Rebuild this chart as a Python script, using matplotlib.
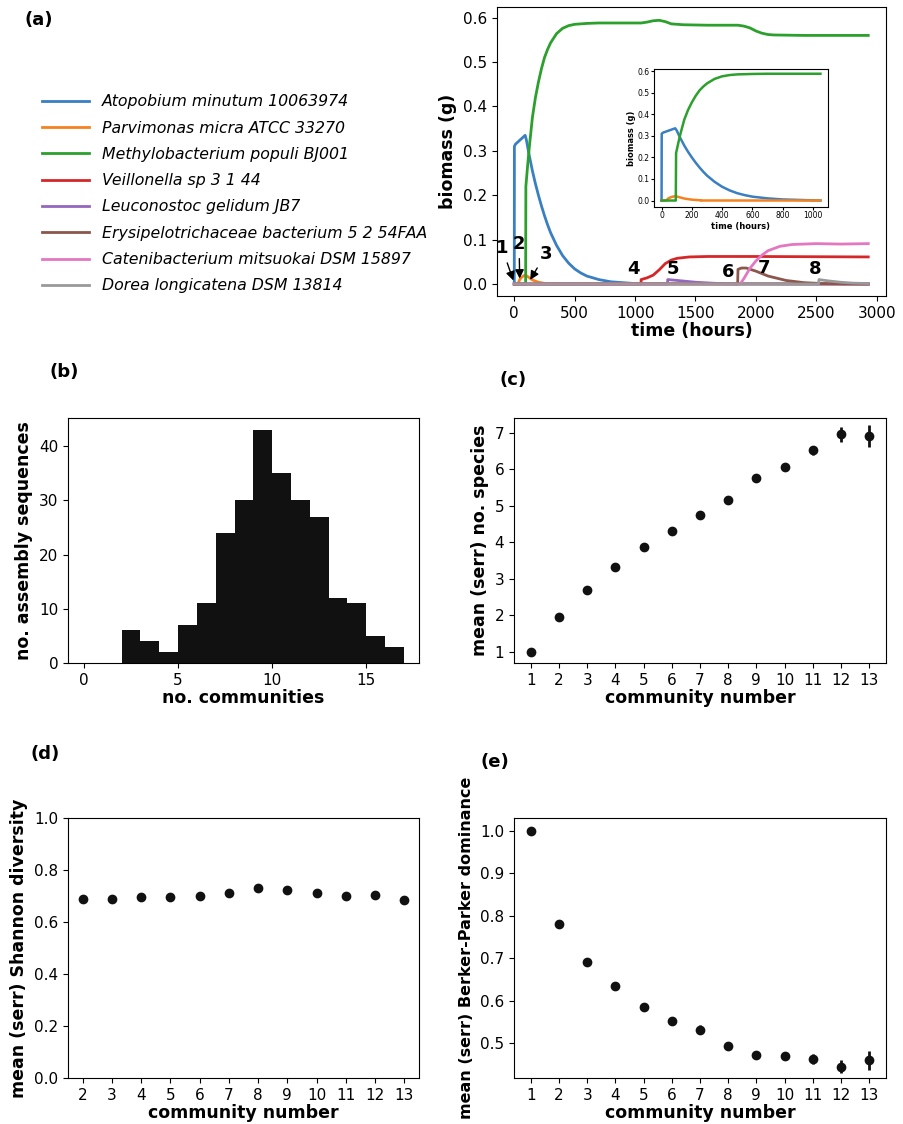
import matplotlib
matplotlib.use('Agg')
import matplotlib.pyplot as plt

# --- panel (a): biomass time courses ---
species = ['Atopobium minutum 10063974', 'Parvimonas micra ATCC 33270',
           'Methylobacterium populi BJ001', 'Veillonella sp 3 1 44',
           'Leuconostoc gelidum JB7', 'Erysipelotrichaceae bacterium 5 2 54FAA',
           'Catenibacterium mitsuokai DSM 15897', 'Dorea longicatena DSM 13814']
colors = ['#3a7fc1', '#f5821f', '#2ca02c', '#d62728', '#9467bd', '#8c564b',
          '#e377c2', '#999999']

t_blue = [0, 1, 10, 30, 50, 70, 90, 100, 110, 120, 135, 150, 175, 200, 225, 250, 275, 300,
          350, 400, 450, 500, 550, 600, 700, 800, 900, 1000, 2930]
b_blue = [0, 0.31, 0.315, 0.32, 0.325, 0.33, 0.335, 0.325, 0.31, 0.295, 0.275, 0.255, 0.226,
          0.2, 0.176, 0.154, 0.134, 0.116, 0.087, 0.064, 0.047, 0.034, 0.025, 0.018, 0.01,
          0.005, 0.003, 0.001, 0]
t_orange = [0, 30, 45, 60, 75, 90, 105, 120, 140, 160, 200, 260, 2930]
b_orange = [0, 0.0, 0.01, 0.015, 0.018, 0.02, 0.018, 0.015, 0.011, 0.008, 0.004, 0.001, 0]
t_green = [0, 94, 96, 110, 125, 150, 175, 200, 225, 250, 275, 300, 350, 400, 450, 500, 600, 700,
           1050, 1100, 1150, 1200, 1250, 1300, 1400, 1600, 1850, 1900, 1950, 2000, 2050, 2100,
           2150, 2400, 2930]
b_green = [0, 0, 0.22, 0.265, 0.31, 0.375, 0.42, 0.455, 0.485, 0.51, 0.528, 0.543, 0.564, 0.576,
           0.582, 0.585, 0.587, 0.588, 0.588, 0.59, 0.593, 0.594, 0.591, 0.586, 0.584, 0.583,
           0.583, 0.581, 0.577, 0.57, 0.565, 0.562, 0.561, 0.56, 0.56]
t_red = [0, 1049, 1050, 1100, 1150, 1200, 1250, 1300, 1350, 1450, 1600, 2000, 2930]
b_red = [0, 0, 0.01, 0.014, 0.02, 0.032, 0.046, 0.054, 0.058, 0.061, 0.062, 0.062, 0.061]
t_purple = [0, 1269, 1270, 1350, 1500, 1700, 1850, 2930]
b_purple = [0, 0, 0.01, 0.008, 0.004, 0.001, 0, 0]
t_brown = [0, 1849, 1852, 1880, 1920, 2000, 2100, 2250, 2400, 2550, 2930]
b_brown = [0, 0, 0.033, 0.036, 0.036, 0.029, 0.018, 0.008, 0.003, 0.001, 0]
t_pink = [0, 1870, 1900, 1950, 2000, 2050, 2100, 2200, 2300, 2500, 2700, 2930]
b_pink = [0, 0, 0.012, 0.035, 0.052, 0.065, 0.075, 0.085, 0.089, 0.091, 0.09, 0.091]
t_grey = [0, 2519, 2522, 2600, 2700, 2800, 2930]
b_grey = [0, 0, 0.01, 0.007, 0.004, 0.002, 0.001]
curves = [(t_blue, b_blue), (t_orange, b_orange), (t_green, b_green), (t_red, b_red),
          (t_purple, b_purple), (t_brown, b_brown), (t_pink, b_pink), (t_grey, b_grey)]

# --- panel (b) ---
hist_left = list(range(2, 17))
hist_counts = [6, 4, 2, 7, 11, 24, 30, 43, 35, 30, 27, 12, 11, 5, 3]

# --- panel (c) ---
c_x = list(range(1, 14))
c_mean = [1.0, 1.95, 2.7, 3.33, 3.87, 4.3, 4.75, 5.17, 5.75, 6.07, 6.52, 6.95, 6.92]
c_err = [0.02, 0.03, 0.04, 0.04, 0.04, 0.04, 0.05, 0.05, 0.06, 0.08, 0.12, 0.2, 0.3]

# --- panel (d) ---
d_x = list(range(2, 14))
d_mean = [0.69, 0.69, 0.695, 0.695, 0.70, 0.71, 0.73, 0.725, 0.71, 0.70, 0.705, 0.685]
d_err = [0.008] * 12

# --- panel (e) ---
e_x = list(range(1, 14))
e_mean = [1.0, 0.78, 0.69, 0.635, 0.585, 0.553, 0.532, 0.493, 0.472, 0.47, 0.462, 0.445, 0.46]
e_err = [0.003, 0.005, 0.006, 0.007, 0.007, 0.008, 0.01, 0.008, 0.008, 0.01, 0.012, 0.016, 0.022]

W, H = 904, 1124
fig = plt.figure(figsize=(W / 100, H / 100), dpi=100)


def box(x0, y0, x1, y1):
    return [x0 / W, 1 - y1 / H, (x1 - x0) / W, (y1 - y0) / H]


lab = dict(fontsize=12.5, fontweight='bold')

# (a)
ax = fig.add_axes(box(497, 7, 886, 296))
handles = []
for (t, b), c, name in zip(curves, colors, species):
    h, = ax.plot(t, b, color=c, lw=2, label=name)
    handles.append(h)
ax.set_xlim(-143, 3077)
ax.set_ylim(-0.027, 0.624)
ax.set_xlabel('time (hours)', labelpad=1, **lab)
ax.set_ylabel('biomass (g)', **lab)
ax.tick_params(labelsize=11)
nb = dict(fontsize=13, fontweight='bold', ha='center', va='center')
arr = dict(arrowstyle='-|>', color='k', lw=1)
ax.annotate('1', xy=(0, 0.002), xytext=(-100, 0.08), arrowprops=arr, **nb)
ax.annotate('2', xy=(45, 0.006), xytext=(40, 0.09), arrowprops=arr, **nb)
ax.annotate('3', xy=(120, 0.004), xytext=(260, 0.068), arrowprops=arr, **nb)
for s, x, y in [('4', 985, 0.034), ('5', 1310, 0.034), ('6', 1770, 0.028),
                ('7', 2065, 0.036), ('8', 2490, 0.034)]:
    ax.text(x, y, s, **nb)

ins = fig.add_axes(box(654, 69, 828, 207))
for (t, b), c in zip(curves[:3], colors[:3]):
    tt = [v for v in t if v <= 1050]
    ins.plot(tt, b[:len(tt)], color=c, lw=1.8)
ins.plot([1000, 1050], [0.001, 0.0], color=colors[0], lw=1.8)
ins.plot([260, 1050], [0.001, 0.001], color=colors[1], lw=1.8)
ins.set_xlim(-50, 1100)
ins.set_ylim(-0.03, 0.61)
ins.set_xticks([0, 200, 400, 600, 800, 1000])
ins.tick_params(labelsize=5.5, length=2, pad=1)
ins.set_xlabel('time (hours)', fontsize=6, fontweight='bold', labelpad=1)
ins.set_ylabel('biomass (g)', fontsize=6, fontweight='bold', labelpad=1)

leg = fig.legend(handles=handles, loc='upper left', bbox_to_anchor=(36 / W, 1 - 88 / H),
                 frameon=False, fontsize=11.3, handlelength=3.0, labelspacing=0.72,
                 borderaxespad=0)
for t in leg.get_texts():
    t.set_fontstyle('italic')

# (b)
bx = fig.add_axes(box(68, 418, 419, 663))
bx.bar(hist_left, hist_counts, width=1, align='edge', color='#111111')
bx.set_xlim(-0.85, 17.8)
bx.set_ylim(0, 45.2)
bx.set_xticks([0, 5, 10, 15])
bx.set_yticks([0, 10, 20, 30, 40])
bx.set_xlabel('no. communities', labelpad=1, **lab)
bx.set_ylabel('no. assembly sequences', **lab)
bx.tick_params(labelsize=11)


def dots(a, x, y, e):
    a.errorbar(x, y, yerr=e, fmt='o', color='#111111', ms=6, elinewidth=2, capsize=0)
    a.tick_params(labelsize=11)
    a.set_xticks(x)
    a.set_xlabel('community number', labelpad=1, **lab)


# (c)
cx = fig.add_axes(box(514, 418, 886, 663))
dots(cx, c_x, c_mean, c_err)
cx.set_xlim(0.4, 13.6)
cx.set_ylim(0.7, 7.4)
cx.set_ylabel('mean (serr) no. species', **lab)

# (d)
dx = fig.add_axes(box(68, 818, 419, 1078))
dots(dx, d_x, d_mean, d_err)
dx.set_xlim(1.5, 13.5)
dx.set_ylim(0, 1.0)
dx.set_ylabel('mean (serr) Shannon diversity', **lab)

# (e)
ex = fig.add_axes(box(514, 818, 886, 1078))
dots(ex, e_x, e_mean, e_err)
ex.set_xlim(0.4, 13.6)
ex.set_ylim(0.418, 1.03)
ex.set_ylabel('mean (serr) Berker-Parker dominance', fontsize=11.5, fontweight='bold')

for s, x, y in [('(a)', 25, 20), ('(b)', 50, 372), ('(c)', 500, 380),
                ('(d)', 30, 754), ('(e)', 480, 762)]:
    fig.text(x / W, 1 - y / H, s, fontsize=13, fontweight='bold', ha='left', va='center')

fig.savefig('out.png', dpi=100)
